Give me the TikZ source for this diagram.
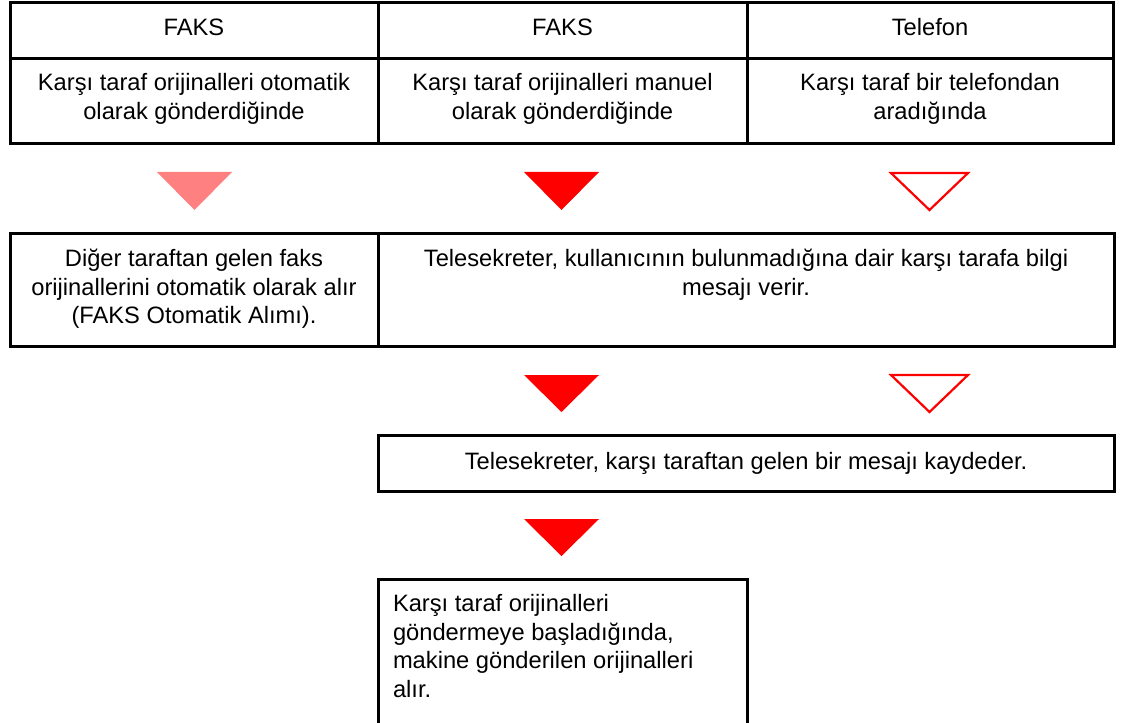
\documentclass[tikz,border=0pt]{standalone}
\usepackage{fontspec}
\setmainfont{Liberation Sans}
\newcommand{\cellc}[4][31.5pt]{\parbox[c][#3][t]{#2}{\centering\rule{0pt}{#1}#4\par}}
\newcommand{\celll}[4][33pt]{\parbox[c][#3][t]{#2}{\raggedright\leftskip=15pt\rule{0pt}{#1}#4\par}}
\definecolor{tred}{RGB}{255,0,0}
\definecolor{tpink}{RGB}{255,128,128}
\begin{document}
\begin{tikzpicture}[x=1pt,y=-1pt,
  cell/.style={draw,line width=3pt,inner sep=0pt,outer sep=0pt,anchor=north west,
    font=\fontsize{23.7}{28.7}\selectfont},
  solidtri/.style={fill=tred},
  palettri/.style={fill=tpink},
  opentri/.style={draw=tred,line width=2.2pt,line join=miter}]
\useasboundingbox (0,0) rectangle (1123,722);
\clip (0,0) rectangle (1123,722);
\fill[white] (0,0) rectangle (1123,722);
% header row
\node[cell] (h1) at (10,3) {\cellc[33pt]{368pt}{56pt}{FAKS}};
\node[cell] (h2) at (378,3) {\cellc[33pt]{369pt}{56pt}{FAKS}};
\node[cell] (h3) at (747,3) {\cellc[33pt]{366pt}{56pt}{Telefon}};
% condition row
\node[cell] (c1) at (10,59) {\cellc[32pt]{368pt}{85pt}{Karşı taraf orijinalleri otomatik\\olarak gönderdiğinde}};
\node[cell] (c2) at (378,59) {\cellc[32pt]{369pt}{85pt}{Karşı taraf orijinalleri manuel\\olarak gönderdiğinde}};
\node[cell] (c3) at (747,59) {\cellc[32pt]{366pt}{85pt}{Karşı taraf bir telefondan\\aradığında}};
% triangles row 1
\fill[palettri] (157,172) -- (232,172) -- (194.5,210) -- cycle;
\fill[solidtri] (524,172) -- (599,172) -- (561.5,210) -- cycle;
\draw[opentri] (891,173) -- (968,173) -- (929.5,210) -- cycle;
% second row boxes
\node[cell] (b1) at (10,233) {\cellc[33.5pt]{368pt}{113pt}{Diğer taraftan gelen faks\\orijinallerini otomatik olarak alır\\(FAKS Otomatik Alımı).}};
\node[cell] (b2) at (378,233) {\cellc[33.5pt]{736pt}{113pt}{Telesekreter, kullanıcının bulunmadığına dair karşı tarafa bilgi\\mesajı verir.}};
% triangles row 2
\fill[solidtri] (524,375) -- (599,375) -- (561.5,412) -- cycle;
\draw[opentri] (891,375) -- (968,375) -- (929.5,412) -- cycle;
% third box
\node[cell] (b3) at (378,435) {\cellc[34.5pt]{736pt}{56pt}{Telesekreter, karşı taraftan gelen bir mesajı kaydeder.}};
% triangle row 3
\fill[solidtri] (524,519) -- (599,519) -- (561.5,556) -- cycle;
% fourth box
\node[cell] (b4) at (378,579) {\celll[32.5pt]{369pt}{170pt}{Karşı taraf orijinalleri\\göndermeye başladığında,\\makine gönderilen orijinalleri\\alır.}};
\end{tikzpicture}
\end{document}
